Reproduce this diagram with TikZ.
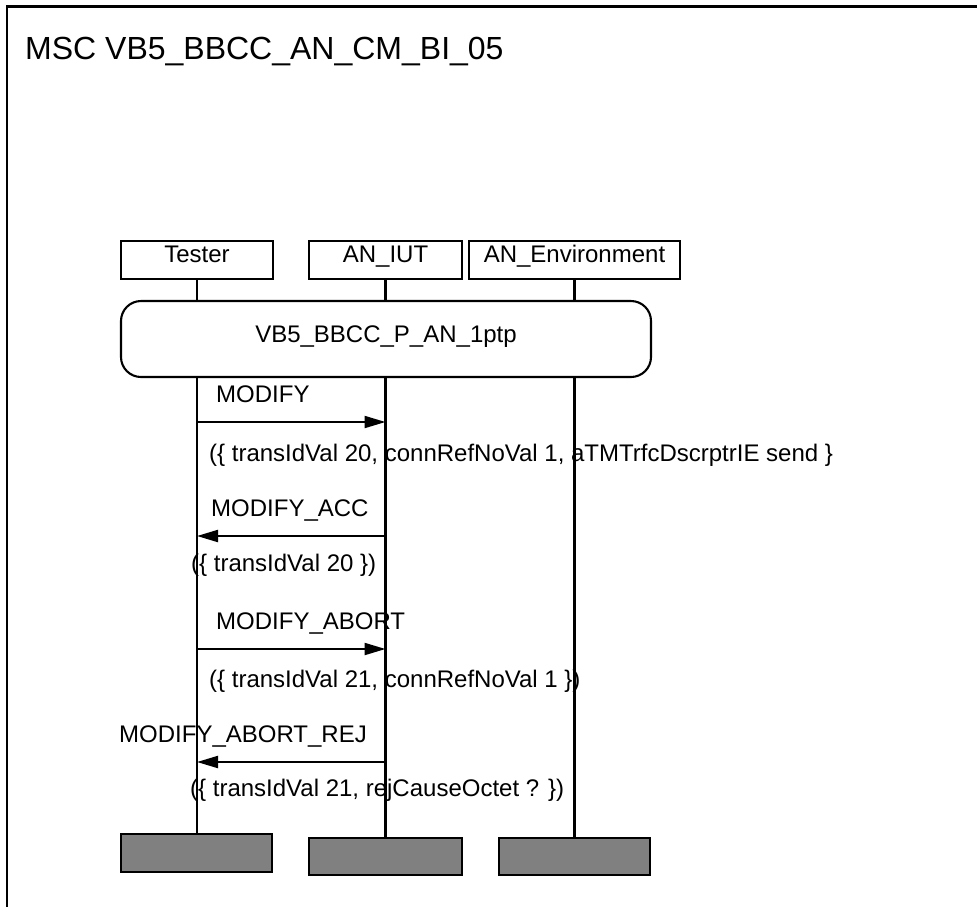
\documentclass[tikz,border=0pt]{standalone}
\usepackage{fontspec}
\setmainfont{Liberation Sans}
\usetikzlibrary{arrows.meta}

\begin{document}
\begin{tikzpicture}[
  x=1pt, y=-1pt,
  font=\fontsize{24}{28}\selectfont,
  frame/.style={draw=black, line width=2.6pt},
  title/.style={anchor=base west, inner sep=0pt, font=\fontsize{32}{36}\selectfont},
  inst/.style={draw=black, line width=2.1pt, fill=white, inner sep=0pt,
    minimum height=38pt, text height=21.3pt, text depth=16.7pt},
  stop/.style={draw=black, line width=2.1pt, fill=black!50, inner sep=0pt,
    minimum height=37.5pt},
  cond/.style={draw=black, line width=2.1pt, fill=white, rounded corners=20pt,
    inner sep=0pt, minimum width=530pt, minimum height=76pt,
    text height=25pt, text depth=18.4pt},
  life/.style={line width=2.1pt, black},
  msg/.style={-{Triangle[length=21pt, width=12pt]}, line width=2.1pt, black},
  lbl/.style={anchor=base west, inner sep=0pt}
]
\useasboundingbox (0,0) rectangle (977,906);

\draw[frame] (980,6.5) -- (7,6.5) -- (7,910);
\node[title] (name) at (25,59) {MSC VB5\_BBCC\_AN\_CM\_BI\_05};

\node[inst, minimum width=152pt] (tester) at (197,260) {Tester};
\node[inst, minimum width=153pt] (iut) at (385.5,260) {AN\_IUT};
\node[inst, minimum width=211pt] (env) at (574.5,260) {AN\_Environment};

\node[stop, minimum width=151pt] (tester-end) at (196.5,853) {};
\node[stop, minimum width=153pt] (iut-end) at (385.5,856.5) {};
\node[stop, minimum width=151pt] (env-end) at (574.5,856.5) {};

\foreach \i in {tester,iut,env}
  \draw[life] (\i.south) -- (\i.south |- \i-end.north);

\node[cond] (init) at (386,339) {VB5\_BBCC\_P\_AN\_1ptp};

\coordinate (modify) at (0,422);
\coordinate (acc) at (0,536);
\coordinate (abort) at (0,649);
\coordinate (rej) at (0,762);

\foreach \a/\b/\y in {tester/iut/modify,iut/tester/acc,tester/iut/abort,iut/tester/rej}
  \draw[msg] (\a |- \y) -- (\b |- \y);

\node[lbl] (modify-lbl) at (216,402) {MODIFY};
\node[lbl] (modify-par) at (209,461)
  {(\{ transIdVal 20, connRefNoVal 1, aTMTrfcDscrptrIE send \}};
\node[lbl] (acc-lbl) at (211,516) {MODIFY\_ACC};
\node[lbl] (acc-par) at (191,571) {(\{ transIdVal 20 \})};
\node[lbl] (abort-lbl) at (216,629) {MODIFY\_ABORT};
\node[lbl] (abort-par) at (209,687) {(\{ transIdVal 21, connRefNoVal 1 \})};
\node[lbl] (rej-lbl) at (119,742) {MODIFY\_ABORT\_REJ};
\node[lbl] (rej-par) at (190,796) {(\{ transIdVal 21, rejCauseOctet ? \})};
\end{tikzpicture}
\end{document}
